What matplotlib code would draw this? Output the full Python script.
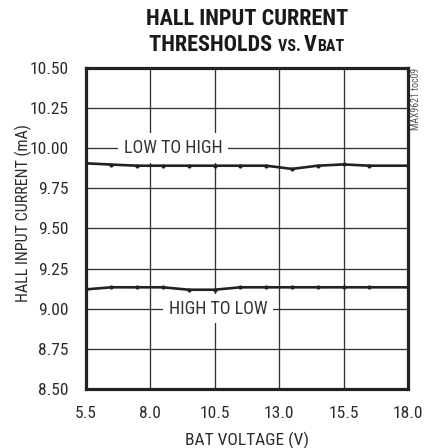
import matplotlib
matplotlib.use("Agg")
import matplotlib.pyplot as plt
import numpy as np

plt.rcParams['font.family'] = ['Roboto Condensed', 'Liberation Sans', 'DejaVu Sans']

# ---- data ----
bat_voltage = [5.5, 6.5, 7.5, 8.5, 9.5, 10.5, 11.5, 12.5, 13.5, 14.5, 15.5, 16.5, 18.0]
low_to_high = [9.905, 9.897, 9.890, 9.890, 9.890, 9.890, 9.890, 9.890, 9.870, 9.890, 9.898, 9.890, 9.890]
high_to_low = [9.120, 9.133, 9.133, 9.133, 9.118, 9.118, 9.133, 9.133, 9.133, 9.133, 9.133, 9.133, 9.133]
x_ticks = [5.5, 8.0, 10.5, 13.0, 15.5, 18.0]
y_ticks = [8.50, 8.75, 9.00, 9.25, 9.50, 9.75, 10.00, 10.25, 10.50]
title_line1 = "HALL INPUT CURRENT"
x_label = "BAT VOLTAGE (V)"
y_label = "HALL INPUT CURRENT (mA)"
note = "MAX9621 toc09"

W, H = 431, 448
fig = plt.figure(figsize=(W / 100, H / 100), dpi=100)
ax = fig.add_axes([85.5 / W, 1 - 389 / H, (408 - 85.5) / W, (389 - 67.7) / H])

ax.set_xlim(5.5, 18.0)
ax.set_ylim(8.5, 10.5)
ax.set_xticks(x_ticks)
ax.set_xticklabels([f"{v:.1f}" for v in x_ticks])
ax.set_yticks(y_ticks)
ax.set_yticklabels([f"{v:.2f}" for v in y_ticks])
ax.tick_params(axis='both', length=0, labelsize=12.5, colors='#2a2a2a')
ax.tick_params(axis='y', pad=12)
ax.tick_params(axis='x', pad=12.5)

# grid
for yv in y_ticks[1:-1]:
    ax.axhline(yv, color='#333333', lw=0.95, zorder=1)
for xv in x_ticks[1:-1]:
    ax.axvline(xv, color='#333333', lw=0.95, zorder=1)

for s in ax.spines.values():
    s.set_linewidth(2.3)
    s.set_color('#222222')
    s.set_zorder(5)

ax.plot(bat_voltage, low_to_high, color='#222222', lw=1.9, marker='o', ms=2.0, zorder=3)
ax.plot(bat_voltage, high_to_low, color='#222222', lw=1.9, marker='o', ms=2.0, zorder=3)

box = dict(boxstyle='square,pad=0.32', fc='white', ec='none')
ax.text(8.89, 10.0, "LOW TO HIGH", ha='center', va='center', fontsize=13,
        color='#333333', bbox=box, zorder=4)
ax.text(10.64, 9.0, "HIGH TO LOW", ha='center', va='center', fontsize=13,
        color='#333333', bbox=box, zorder=4)

ax.set_xlabel(x_label, fontsize=12.5, color='#2a2a2a', va='baseline')
ax.xaxis.set_label_coords(0.5, -(445 - 389) / 321.3)
ax.set_ylabel(y_label, fontsize=11.5, color='#2a2a2a', va='center')
ax.yaxis.set_label_coords((23 - 85.5) / 322.5, (389 - 213) / 321.3)

fig.text(416 / W, 1 - 68 / H, note, rotation=90, ha='center', va='top',
         fontsize=7, color='#555555')

# title
cx = (85.5 + 408) / 2 / W
fig.text(cx, 1 - 25 / H, title_line1, ha='center', va='baseline',
         fontsize=16, fontweight='heavy', color='#1a1a1a')

pieces = [("THRESHOLDS ", 16), ("VS. ", 11.5), ("V", 16), ("BAT", 11.5)]
fig.canvas.draw()
r = fig.canvas.get_renderer()
texts = []
for s, fs in pieces:
    t = fig.text(0, 1 - 51 / H, s, ha='left', va='baseline', fontsize=fs,
                 fontweight='heavy', color='#1a1a1a')
    texts.append(t)
widths = []
for t in texts:
    bb = t.get_window_extent(renderer=r)
    widths.append(bb.width)
total = sum(widths)
start = cx * W - total / 2
xpos = start
for t, w in zip(texts, widths):
    t.set_x(xpos / W)
    xpos += w

fig.savefig("out.png", dpi=100)
